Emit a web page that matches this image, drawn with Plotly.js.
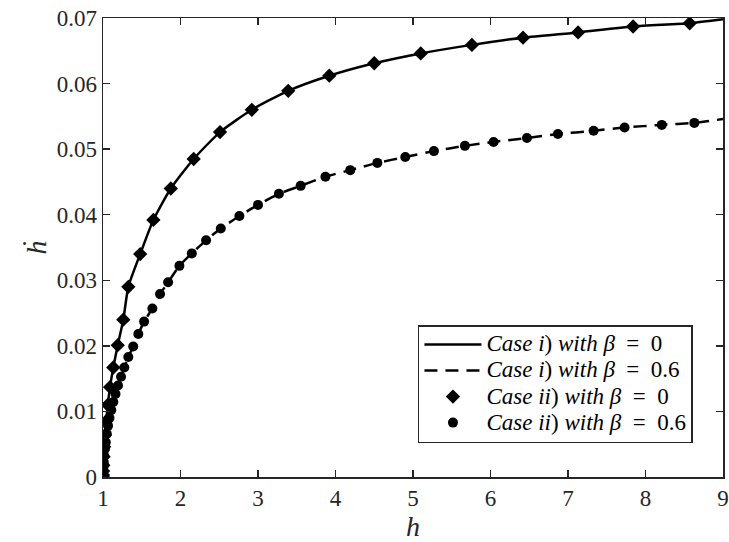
<!DOCTYPE html>
<html>
<head>
<meta charset="utf-8">
<script src="https://cdn.plot.ly/plotly-3.0.1.min.js"></script>
<style>
  html, body { margin: 0; padding: 0; background: #fff; }
  #chart { width: 729px; height: 542px; }
</style>
</head>
<body>
<div id="chart"></div>
<script>
// Case ii) with beta = 0 : sampled points (h, h-dot)
const hBeta0 = [1.000, 1.000, 1.0013, 1.004, 1.0078, 1.0155, 1.026, 1.041, 1.062, 1.090,
  1.133, 1.19, 1.262, 1.327, 1.48, 1.65, 1.875, 2.17, 2.51, 2.92, 3.39, 3.92, 4.50,
  5.10, 5.76, 6.42, 7.13, 7.84, 8.57];
const hdotBeta0 = [0.0000, 0.0003, 0.0009, 0.0018, 0.0031, 0.0046, 0.0064, 0.0085, 0.0110, 0.0137,
  0.0167, 0.0201, 0.0240, 0.0290, 0.0340, 0.0392, 0.0440, 0.0485, 0.0526, 0.0560, 0.0589, 0.0612, 0.0631,
  0.0646, 0.0659, 0.0670, 0.0678, 0.0687, 0.0692];

// Case ii) with beta = 0.6 : sampled points (h, h-dot)
const hBeta06 = [1.000, 1.000, 1.001, 1.0026, 1.005, 1.010, 1.017, 1.026, 1.036, 1.049, 1.065,
  1.084, 1.107, 1.133, 1.1615, 1.194, 1.2326, 1.275, 1.327, 1.39, 1.456, 1.53, 1.637, 1.736,
  1.84, 1.986, 2.146, 2.33, 2.52, 2.76, 3.00, 3.27, 3.55, 3.87, 4.19, 4.54, 4.90, 5.27,
  5.67, 6.04, 6.47, 6.87, 7.33, 7.73, 8.21, 8.63];
const hdotBeta06 = [0.0000, 0.0001, 0.0005, 0.0009, 0.0015, 0.0023, 0.0032, 0.0043, 0.0053, 0.0066, 0.0078,
  0.0090, 0.0102, 0.01144, 0.01266, 0.01395, 0.0153, 0.0167, 0.0183, 0.0199, 0.0218, 0.0237, 0.0257, 0.0279,
  0.0297, 0.0322, 0.0341, 0.0361, 0.0379, 0.0398, 0.0415, 0.0432, 0.0444, 0.0458, 0.0468, 0.0479, 0.0488, 0.0497,
  0.0505, 0.0511, 0.0517, 0.0523, 0.0528, 0.0533, 0.0537, 0.0540];

// Case i) curves: end values at h = 9
const hEnd = 9;
const hdotEndBeta0 = 0.0698;
const hdotEndBeta06 = 0.0546;

const legendNames = [
  '<i>Case i</i>) <i>with β</i>&#8194;=&#8194;0',
  '<i>Case i</i>) <i>with β</i>&#8194;=&#8194;0.6',
  '<i>Case ii</i>) <i>with β</i>&#8194;=&#8194;0',
  '<i>Case ii</i>) <i>with β</i>&#8194;=&#8194;0.6'
];

const xTicks = [1, 2, 3, 4, 5, 6, 7, 8, 9];
const yTicks = [0, 0.01, 0.02, 0.03, 0.04, 0.05, 0.06, 0.07];
const yTickText = ['0', '0.01', '0.02', '0.03', '0.04', '0.05', '0.06', '0.07'];

const ink = '#000000';
const axisInk = '#262626';
const serif = 'Liberation Serif';

// legend rows are spaced by the legend font size; the entry text itself is set larger
const legendLabel = s => '<span style="font-size:23px">' + s + '</span>';

const traces = [
  {
    x: hBeta0.concat([hEnd]), y: hdotBeta0.concat([hdotEndBeta0]),
    mode: 'lines', name: legendLabel(legendNames[0]),
    line: { color: ink, width: 2.5, shape: 'spline', smoothing: 0.6 }
  },
  {
    x: hBeta06.concat([hEnd]), y: hdotBeta06.concat([hdotEndBeta06]),
    mode: 'lines', name: legendLabel(legendNames[1]),
    line: { color: ink, width: 2.5, dash: '13px,8px', shape: 'spline', smoothing: 0.6 }
  },
  {
    x: hBeta0, y: hdotBeta0,
    mode: 'markers', name: legendLabel(legendNames[2]),
    marker: { symbol: 'diamond', size: 11, color: ink }
  },
  {
    x: hBeta06, y: hdotBeta06,
    mode: 'markers', name: legendLabel(legendNames[3]),
    marker: { symbol: 'circle', size: 10, color: ink }
  }
];

function axisStyle() {
  return {
    showline: true, linecolor: axisInk, linewidth: 1.5,
    mirror: 'ticks', ticks: 'inside', ticklen: 7, tickwidth: 1.5, tickcolor: axisInk,
    showgrid: false, zeroline: false,
    tickfont: { family: serif, size: 23, color: axisInk }
  };
}

const layout = {
  width: 729, height: 542,
  margin: { l: 103, r: 6, t: 18, b: 65 },
  paper_bgcolor: '#ffffff', plot_bgcolor: '#ffffff',
  font: { family: serif, size: 23, color: axisInk },
  showlegend: true,
  xaxis: Object.assign(axisStyle(), {
    range: [1, 9], tickvals: xTicks,
    title: { text: '<i>h</i>', font: { family: serif, size: 28, color: axisInk }, standoff: 4 }
  }),
  yaxis: Object.assign(axisStyle(), {
    range: [0, 0.07], tickvals: yTicks, ticktext: yTickText,
    title: { text: '<i>ḣ</i>', font: { family: serif, size: 28, color: axisInk }, standoff: 2 }
  }),
  legend: {
    x: 0.508, y: 0.331, xanchor: 'left', yanchor: 'top',
    bgcolor: '#ffffff', bordercolor: axisInk, borderwidth: 1.5,
    font: { family: serif, size: 17.7, color: ink },
    itemwidth: 57, tracegroupgap: 0
  }
};

Plotly.newPlot('chart', traces, layout, { displayModeBar: false, staticPlot: true });
</script>
</body>
</html>
